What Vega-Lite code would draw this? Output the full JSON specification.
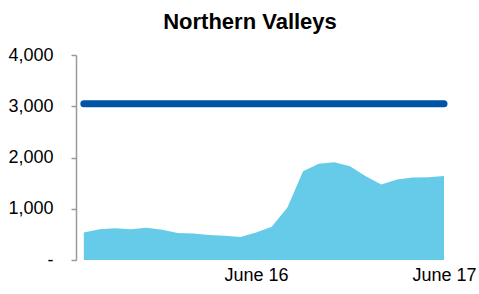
{
  "$schema": "https://vega.github.io/schema/vega-lite/v6.json",
  "autosize": {"type": "none"},
  "width": 368,
  "height": 205,
  "padding": {"left": 76, "top": 55, "right": 35, "bottom": 34},
  "background": "white",
  "title": {
    "text": "Northern Valleys",
    "font": "Liberation Sans",
    "fontSize": 22,
    "fontWeight": "bold",
    "color": "#000000",
    "anchor": "middle",
    "frame": "group",
    "dx": -10,
    "dy": -8
  },
  "config": {
    "view": {"stroke": null},
    "font": "Liberation Sans"
  },
  "data": {
    "values": [
      {"time": "2024-06-15T02:00:00Z", "demand": 536, "limit": 3050},
      {"time": "2024-06-15T04:00:00Z", "demand": 601, "limit": 3050},
      {"time": "2024-06-15T06:00:00Z", "demand": 621, "limit": 3050},
      {"time": "2024-06-15T08:00:00Z", "demand": 601, "limit": 3050},
      {"time": "2024-06-15T10:00:00Z", "demand": 627, "limit": 3050},
      {"time": "2024-06-15T12:00:00Z", "demand": 588, "limit": 3050},
      {"time": "2024-06-15T14:00:00Z", "demand": 529, "limit": 3050},
      {"time": "2024-06-15T16:00:00Z", "demand": 516, "limit": 3050},
      {"time": "2024-06-15T18:00:00Z", "demand": 490, "limit": 3050},
      {"time": "2024-06-15T20:00:00Z", "demand": 471, "limit": 3050},
      {"time": "2024-06-15T22:00:00Z", "demand": 451, "limit": 3050},
      {"time": "2024-06-16T00:00:00Z", "demand": 536, "limit": 3050},
      {"time": "2024-06-16T02:00:00Z", "demand": 647, "limit": 3050},
      {"time": "2024-06-16T04:00:00Z", "demand": 1026, "limit": 3050},
      {"time": "2024-06-16T06:00:00Z", "demand": 1732, "limit": 3050},
      {"time": "2024-06-16T08:00:00Z", "demand": 1876, "limit": 3050},
      {"time": "2024-06-16T10:00:00Z", "demand": 1908, "limit": 3050},
      {"time": "2024-06-16T12:00:00Z", "demand": 1830, "limit": 3050},
      {"time": "2024-06-16T14:00:00Z", "demand": 1634, "limit": 3050},
      {"time": "2024-06-16T16:00:00Z", "demand": 1471, "limit": 3050},
      {"time": "2024-06-16T18:00:00Z", "demand": 1569, "limit": 3050},
      {"time": "2024-06-16T20:00:00Z", "demand": 1608, "limit": 3050},
      {"time": "2024-06-16T22:00:00Z", "demand": 1614, "limit": 3050},
      {"time": "2024-06-17T00:00:00Z", "demand": 1641, "limit": 3050}
    ]
  },
  "encoding": {
    "x": {
      "field": "time",
      "type": "temporal",
      "scale": {
        "type": "utc",
        "domain": [
          {"year": 2024, "month": 6, "date": 15, "hours": 1, "utc": true},
          {"year": 2024, "month": 6, "date": 17, "hours": 0, "utc": true}
        ],
        "nice": false
      },
      "axis": {
        "title": null,
        "values": [
          {"year": 2024, "month": 6, "date": 16, "utc": true},
          {"year": 2024, "month": 6, "date": 17, "utc": true}
        ],
        "format": "%B %-d",
        "domain": false,
        "ticks": false,
        "grid": false,
        "labelFont": "Liberation Sans",
        "labelFontSize": 18,
        "labelColor": "#000000",
        "labelPadding": 6,
        "labelFlush": false,
        "labelOverlap": false
      }
    }
  },
  "layer": [
    {
      "mark": {"type": "area", "color": "#66CBE8", "opacity": 1},
      "encoding": {
        "y": {
          "field": "demand",
          "type": "quantitative",
          "scale": {"domain": [0, 4000], "nice": false, "zero": true},
          "axis": {
            "title": null,
            "values": [0, 1000, 2000, 3000, 4000],
            "labelExpr": "datum.value == 0 ? '-\u00a0\u00a0' : format(datum.value, ',')",
            "grid": false,
            "domainColor": "#999999",
            "domainWidth": 1.5,
            "tickColor": "#999999",
            "tickWidth": 1.5,
            "tickSize": 5,
            "labelPadding": 18,
            "labelFont": "Liberation Sans",
            "labelFontSize": 18,
            "labelColor": "#000000"
          }
        }
      }
    },
    {
      "mark": {"type": "line", "color": "#0054A4", "strokeWidth": 7, "strokeCap": "round", "clip": false},
      "encoding": {
        "y": {"field": "limit", "type": "quantitative"}
      }
    }
  ]
}
